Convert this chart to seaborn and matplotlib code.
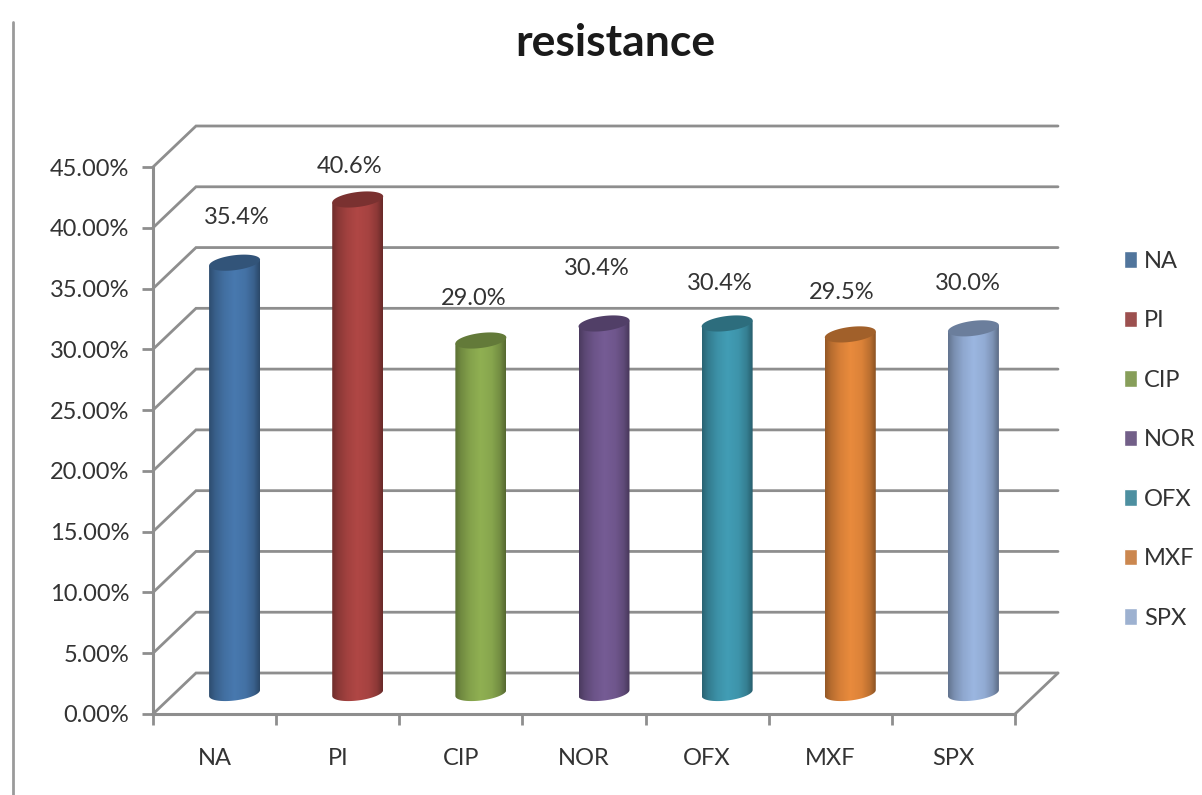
import numpy as np
import pandas as pd
import matplotlib
matplotlib.use('Agg')
import matplotlib.pyplot as plt
from matplotlib.lines import Line2D
from matplotlib.patches import Polygon
from matplotlib.colors import to_rgb
import seaborn as sns

# values
drugs = ['NA', 'PI', 'CIP', 'NOR', 'OFX', 'MXF', 'SPX']
resistance = [35.4, 40.6, 29.0, 30.4, 30.4, 29.5, 30.0]
bar_colors = ['#4574A8', '#A94442', '#8AA94F', '#71588F', '#3F97AE', '#E0853A', '#95AFD8']
y_ticks = [0, 5, 10, 15, 20, 25, 30, 35, 40, 45]

# the labels sit a bit irregularly above the bars (pixels from bar top)
label_dx = [2, -8, -7, -7, -7, -9, -6]
label_dy = [45.5, 32.5, 41.5, 54.5, 39.5, 41.5, 44.5]

W, H = 1202, 795
x0, x1, y0, y45 = 153, 1015, 714, 167
px_x = (x1 - x0) / 7
px_y = (y0 - y45) / 45
grid_col = '#8e8e8e'
text_col = '#333333'

sns.set_theme(style='white')
plt.rcParams['font.family'] = ['Lato', 'DejaVu Sans']

df = pd.DataFrame({'drug': drugs, 'resistance': resistance})

fig = plt.figure(figsize=(W / 100, H / 100), dpi=100)


def place(dx, dy, below=0):
    # below = extra room under zero, in % units
    return fig.add_axes([(x0 + dx) / W, (H - y0 + dy - below * px_y) / H,
                         (x1 - x0) / W, (y0 - y45 + below * px_y) / H])


# front plane holds the ticks, the walls are drawn from it
wall = place(0, 0)
wall.set_xlim(-0.5, 6.5)
wall.set_ylim(0, 45)
wall.set_yticks(y_ticks)
wall.set_yticklabels(['%.2f%%' % t for t in y_ticks])
wall.set_xticks(np.arange(-0.5, 7, 1))
wall.set_xticklabels([])
wall.set_xticks(range(7), drugs, minor=True)
wall.tick_params(axis='both', which='major', length=8, width=2, color=grid_col, left=True, bottom=True)
wall.tick_params(axis='y', labelsize=17, labelcolor=text_col, pad=9)
wall.tick_params(axis='x', which='minor', length=0, labelsize=17, labelcolor=text_col, pad=24.5)
sns.despine(ax=wall)
for side in ['left', 'bottom']:
    wall.spines[side].set_color(grid_col)
    wall.spines[side].set_linewidth(2.2)

depth_x = 43 / px_x
depth_y = 41 / px_y
for t in y_ticks:
    wall.plot([-0.5, -0.5 + depth_x, 6.5 + depth_x], [t, t + depth_y, t + depth_y],
              color=grid_col, lw=2, clip_on=False, solid_joinstyle='miter')
wall.plot([6.5, 6.5 + depth_x], [0, depth_y], color=grid_col, lw=2, clip_on=False)

# bars stand in the middle of the depth
ax = place(20, 21, below=2)
ax.patch.set_alpha(0)
sns.barplot(data=df, x='drug', y='resistance', hue='drug', palette=bar_colors, width=0.414,
            dodge=False, legend=True, ax=ax)
bars = [c[0] for c in ax.containers]

shade_pos = np.array([0, 0.12, 0.3, 0.5, 0.72, 0.88, 1])
shade_val = np.array([0.66, 0.82, 0.96, 1.04, 0.98, 0.84, 0.62])
b = 7.5 / px_y
tilt = 3 / px_y

for bar, col in zip(bars, bar_colors):
    left, w, h = bar.get_x(), bar.get_width(), bar.get_height()
    cx = left + w / 2
    rgb = np.array(to_rgb(col))
    t = np.linspace(0, 1, 120)
    shade = np.clip(np.interp(t, shade_pos, shade_val)[None, :, None] * rgb, 0, 1)
    # outline: lower rim, then back along the top rim
    a = np.linspace(np.pi, 2 * np.pi, 40)
    low = np.c_[cx + w / 2 * np.cos(a), b * np.sin(a) + tilt * np.cos(a)]
    a2 = np.linspace(0, np.pi, 40)
    top = np.c_[cx + w / 2 * np.cos(a2), h + tilt * np.cos(a2)]
    outline = Polygon(np.r_[low, top], closed=True, transform=ax.transData, fc='none', ec='none', clip_on=False)
    ax.add_patch(outline)
    im = ax.imshow(shade, extent=(left, left + w, -2 * b, h + 2 * b), aspect='auto', zorder=3)
    im.set_clip_path(outline)
    bar.set_visible(False)
    # top cap
    a3 = np.linspace(0, 2 * np.pi, 80)
    cap = np.c_[cx + w / 2 * np.cos(a3), h + b * np.sin(a3) + tilt * np.cos(a3)]
    ax.add_patch(Polygon(cap, closed=True, fc=tuple(rgb * 0.72), ec='none', zorder=4, clip_on=False))
ax.set_xlim(-0.5, 6.5)
ax.set_ylim(-2, 45)
ax.set_axis_off()

for i, v in enumerate(resistance):
    ax.annotate('%.1f%%' % v, (i, v), xytext=(label_dx[i] * 0.72, label_dy[i] * 0.72),
                textcoords='offset points', ha='center', va='center',
                fontsize=17, color=text_col, annotation_clip=False, zorder=6)

sns.move_legend(ax, 'upper left', bbox_to_anchor=(1124 / W, 1 - 251 / H),
                bbox_transform=fig.transFigure, frameon=False, title=None, fontsize=17,
                labelcolor=text_col, handlelength=0.55, handleheight=0.7, handletextpad=0.3,
                labelspacing=1.63, borderpad=0, borderaxespad=0)

fig.text(615 / W, 1 - 43 / H, 'resistance', ha='center', va='center', fontsize=32,
         fontweight='bold', color='#1a1a1a')
fig.add_artist(Line2D([13 / W, 13 / W], [0, 1 - 22 / H], color='#9a9a9a', lw=2))

fig.savefig('out.png', dpi=100)
